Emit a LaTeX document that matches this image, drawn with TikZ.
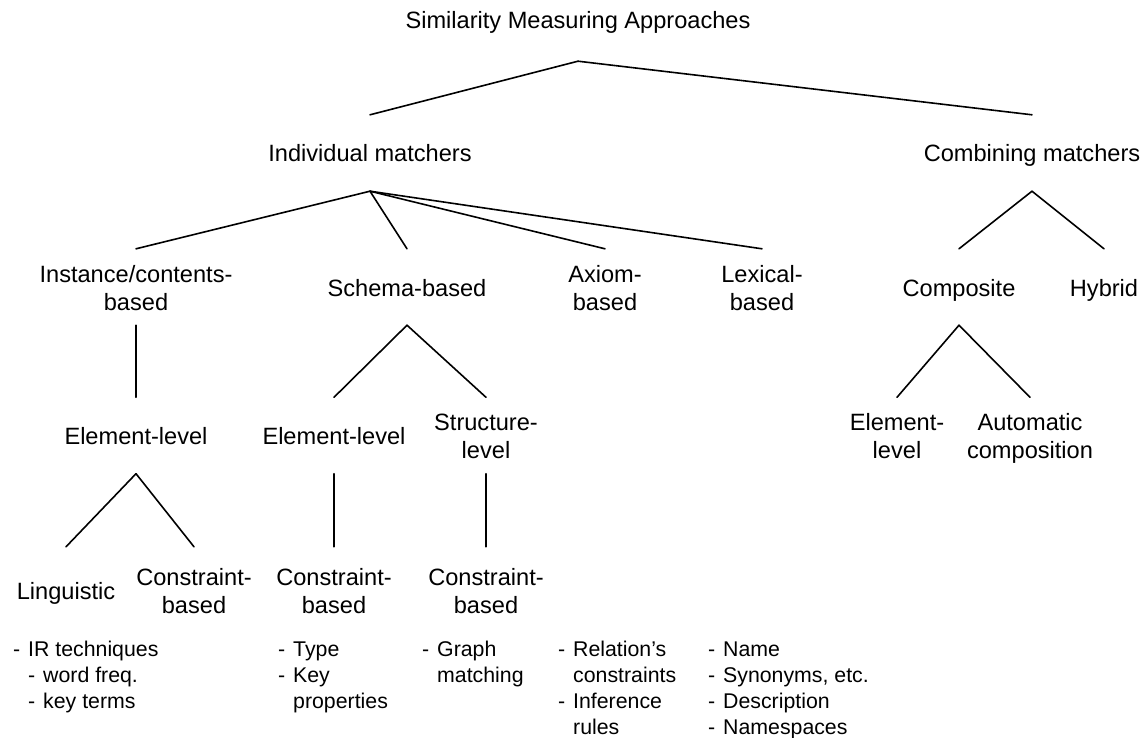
\documentclass[tikz,border=0pt]{standalone}
\usepackage{fontspec}
\setmainfont{Liberation Sans}
% list entry with a hanging dash, and the matching indent
\newcommand\itm[1]{\makebox[15pt][l]{-}#1}
\newcommand\ind{\hspace*{15pt}}
% first-line struts: a taller first line lowers the text in its 76pt box
\newcommand\dropA{\rule{0pt}{26pt}}
\newcommand\dropB{\rule{0pt}{27pt}}
\newcommand\dropC{\rule{0pt}{26pt}}
\newcommand\dropD{\rule{0pt}{37pt}}
\begin{document}
\begin{tikzpicture}[x=1pt,y=-1pt,
  lbl/.style={font=\fontsize{23.6}{28}\selectfont, align=center,
              inner sep=0pt, minimum height=76pt},
  lst/.style={font=\fontsize{21.3}{26}\selectfont, align=left,
              inner sep=0pt, anchor=north west},
  edge/.style={line width=1.6pt, line cap=round, line join=round}]
\useasboundingbox (0,0) rectangle (1148,738);

% labels of the hierarchy
\node[lbl] (root) at (578,23) {\strut Similarity Measuring Approaches};
\node[lbl] (im) at (370,153) {\dropA\strut Individual matchers};
\node[lbl] (cm) at (1032,153) {\dropA\strut Combining matchers};

\node[lbl] (inst) at (136,287) {\dropB\strut Instance/contents-\\\strut based};
\node[lbl] (schema) at (407,287) {\dropB\strut Schema-based};
\node[lbl] (axiom) at (605,287) {\dropB\strut Axiom-\\\strut based};
\node[lbl] (lexical) at (762,287) {\dropB\strut Lexical-\\\strut based};
\node[lbl] (composite) at (959,287) {\dropB\strut Composite};
\node[lbl] (hybrid) at (1104,287) {\dropB\strut Hybrid};

\node[lbl] (elA) at (136,435.5) {\dropC\strut Element-level};
\node[lbl] (elB) at (334,435.5) {\dropC\strut Element-level};
\node[lbl] (struct) at (486,435.5) {\dropC\strut Structure-\\\strut level};
\node[lbl] (elC) at (897,435.5) {\dropC\strut Element-\\\strut level};
\node[lbl] (autoc) at (1030,435.5) {\dropC\strut Automatic\\\strut composition};

\node[lbl] (ling) at (66,585) {\dropD\strut Linguistic};
\node[lbl] (cbA) at (194,585) {\dropD\strut Constraint-\\\strut based};
\node[lbl] (cbB) at (334,585) {\dropD\strut Constraint-\\\strut based};
\node[lbl] (cbC) at (486,585) {\dropD\strut Constraint-\\\strut based};

% technique lists
\node[lst] (listA) at (13,637.8) {\strut\itm{IR techniques}\\\ind\itm{word freq.}\\\ind\itm{key terms}};
\node[lst] (listB) at (278,637.8) {\strut\itm{Type}\\\itm{Key}\\\ind properties};
\node[lst] (listC) at (422,637.8) {\strut\itm{Graph}\\\ind matching};
\node[lst] (listD) at (558,637.8) {\strut\itm{Relation’s}\\\ind constraints\\\itm{Inference}\\\ind rules};
\node[lst] (listE) at (708,637.8) {\strut\itm{Name}\\\itm{Synonyms, etc.}\\\itm{Description}\\\itm{Namespaces}};

% branches
\draw[edge] (root.south) -- (im.north);
\draw[edge] (root.south) -- (cm.north);

\draw[edge] (im.south) -- (inst.north);
\draw[edge] (im.south) -- (schema.north);
\draw[edge] (im.south) -- (axiom.north);
\draw[edge] (im.south) -- (lexical.north);

\draw[edge] (cm.south) -- (composite.north);
\draw[edge] (cm.south) -- (hybrid.north);

\draw[edge] (inst.south) -- (elA.north);
\draw[edge] (schema.south) -- (elB.north);
\draw[edge] (schema.south) -- (struct.north);
\draw[edge] (composite.south) -- (elC.north);
\draw[edge] (composite.south) -- (autoc.north);

\draw[edge] (elA.south) -- (ling.north);
\draw[edge] (elA.south) -- (cbA.north);
\draw[edge] (elB.south) -- (cbB.north);
\draw[edge] (struct.south) -- (cbC.north);
\end{tikzpicture}
\end{document}
